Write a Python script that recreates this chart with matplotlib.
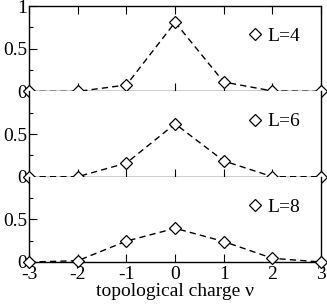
import matplotlib.pyplot as plt
import numpy as np

plt.rcParams['font.family'] = ['Liberation Serif', 'DejaVu Serif']
plt.rcParams['axes.unicode_minus'] = False

# topologische ladung
charge = [-3, -2, -1, 0, 1, 2, 3]

# verteilungen fuer die drei gittergroessen
p_L4 = [0.0, 0.0, 0.075, 0.81, 0.11, 0.005, 0.0]
p_L6 = [0.0, 0.0, 0.16, 0.62, 0.185, 0.0, 0.0]
p_L8 = [0.0, 0.015, 0.245, 0.395, 0.24, 0.043, 0.0]

labels = ["L=4", "L=6", "L=8"]
series = [p_L4, p_L6, p_L8]

fig = plt.figure(figsize=(3.27, 3.05), dpi=100)

left, right = 0.089, 0.982
top, bottom = 0.980, 0.141
h = (top - bottom) / 3

for i, (vals, lab) in enumerate(zip(series, labels)):
    ax = fig.add_axes([left, top - (i + 1) * h, right - left, h])
    ax.plot(charge, vals, color="black", linestyle=(0, (4.5, 3)), linewidth=1.0,
            marker="D", markersize=6.3, markerfacecolor="white",
            markeredgecolor="black", markeredgewidth=0.9, clip_on=False,
            zorder=5, label=lab)

    ax.set_xlim(-3, 3)
    ax.set_ylim(0, 1)
    ax.spines["top"].set_visible(i == 0)
    for s in ax.spines.values():
        s.set_linewidth(1.0)

    if i == 0:
        ax.set_yticks([0, 0.5, 1])
        ax.set_yticklabels(["0", "0.5", "1"])
    else:
        ax.set_yticks([0, 0.5])
        ax.set_yticklabels(["0", "0.5"])
    ax.set_yticks([0.25, 0.75], minor=True)
    ax.set_xticks(charge)

    ax.tick_params(axis="both", which="major", direction="in", length=6,
                   width=0.8, labelsize=14, pad=1.5)
    ax.tick_params(axis="y", which="minor", direction="in", length=3,
                   width=0.8)
    ax.tick_params(axis="x", top=(i == 0), bottom=True)

    if i < 2:
        ax.set_xticklabels([])
    else:
        ax.tick_params(axis="x", pad=3)
        ax.set_xlabel("topological charge ν", fontsize=14, labelpad=0)

    leg = ax.legend(loc="upper left", bbox_to_anchor=(0.755, 0.75),
                    frameon=False, fontsize=14, handlelength=0.6,
                    handletextpad=0.3, borderpad=0, borderaxespad=0,
                    numpoints=1)
    for hd in leg.legend_handles:
        hd.set_linestyle("none")

fig.savefig("out.png", dpi=100)
